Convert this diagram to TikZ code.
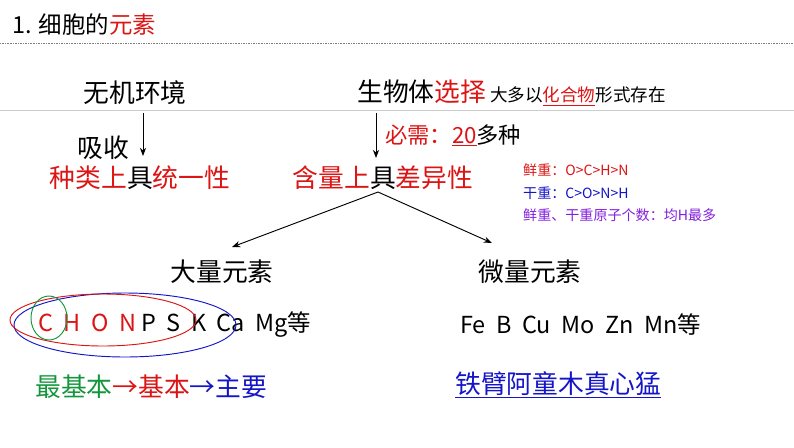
\documentclass[tikz,border=0pt]{standalone}
\usepackage{fontspec}
\setmainfont{Noto Sans CJK SC}
\usetikzlibrary{arrows.meta}
\definecolor{myred}{RGB}{220,20,20}
\definecolor{myblue}{RGB}{20,20,200}
\definecolor{mygreen}{RGB}{20,150,60}
\definecolor{mypurple}{RGB}{130,30,220}
\newcommand{\fs}[1]{\fontsize{#1}{#1}\selectfont}
\newcommand{\rd}[1]{\textcolor{myred}{#1}}
\newcommand{\uln}[1]{$\underline{\hbox{#1}}$}

\begin{document}
\begin{tikzpicture}[x=0.03cm, y=-0.03cm,
    big/.style={font=\fs{22}, inner sep=0pt},
    small/.style={font=\fs{12}, inner sep=0pt, anchor=west},
    elem/.style={font=\fs{20}, inner sep=0pt, anchor=west},
    arr/.style={-{Stealth[length=7pt]}, thick}]
    \useasboundingbox (0,0) rectangle (794,447);

    % Title and rules
    \node[anchor=west, font=\fs{20}, inner sep=0pt] (title) at (12,25) {1. 细胞的\rd{元素}};
    \draw[gray, densely dotted] (0,43) -- (794,43);
    \draw[gray!40] (0,110) -- (794,110);

    % Upper row
    \node[big] (env) at (135,93) {无机环境};
    \node[big, anchor=west] (bio) at (357,93) {生物体\rd{选择}{\fs{15} 大多以\rd{\uln{化合物}}形式存在}};
    \coordinate (bioarr) at (376,113);
    \node[big] (absorb) at (103,148) {吸收};
    \node[anchor=west, font=\fs{19}, inner sep=0pt] (need) at (385,135) {\rd{必需：\uln{20}}多种};
    \node[big] (unity) at (140,178) {\rd{种类上}具\rd{统一性}};
    \node[big] (diff) at (383,178) {\rd{含量上}具\rd{差异性}};
    \draw[arr] (143,113) -- (143,156);
    \draw[arr] (bioarr) -- (376,158);

    % Notes
    \node[small, text=myred] (fresh) at (523,170) {鲜重：O>C>H>N};
    \node[small, text=myblue] (dry) at (523,193) {干重：C>O>N>H};
    \node[small, text=mypurple] (count) at (523,215) {鲜重、干重原子个数：均H最多};

    % Branches
    \coordinate (fork) at (378,192);
    \node[big] (major) at (222,272) {大量元素};
    \node[big] (minor) at (530,272) {微量元素};
    \draw[arr] (fork) -- (232,247);
    \draw[arr] (fork) -- (492,243);

    % Elements
    \node[elem] (majlist) at (38,325) {\rd{C\ \ H\ \ O\ \ N}\ P\ \ S\ \ K\ \ Ca\ \ Mg等};
    \node[elem] (minlist) at (460,325) {Fe\ \ B\ \ Cu\ \ Mo\ \ Zn\ \ Mn等};
    \draw[myblue, thick] (125,325) ellipse (111 and 32);
    \draw[myred, thick] (103,320) ellipse (93 and 26);
    \draw[mygreen, thick] (49,318) ellipse (18 and 22);

    % Bottom row
    \node[big, anchor=west] (basic) at (35,387) {\textcolor{mygreen}{最基本}\rd{→基本}\textcolor{myblue}{ →主要}};
    \node[big, anchor=west, text=myblue] (mnemo) at (455,385) {\uln{铁臂阿童木真心猛}};
\end{tikzpicture}
\end{document}
